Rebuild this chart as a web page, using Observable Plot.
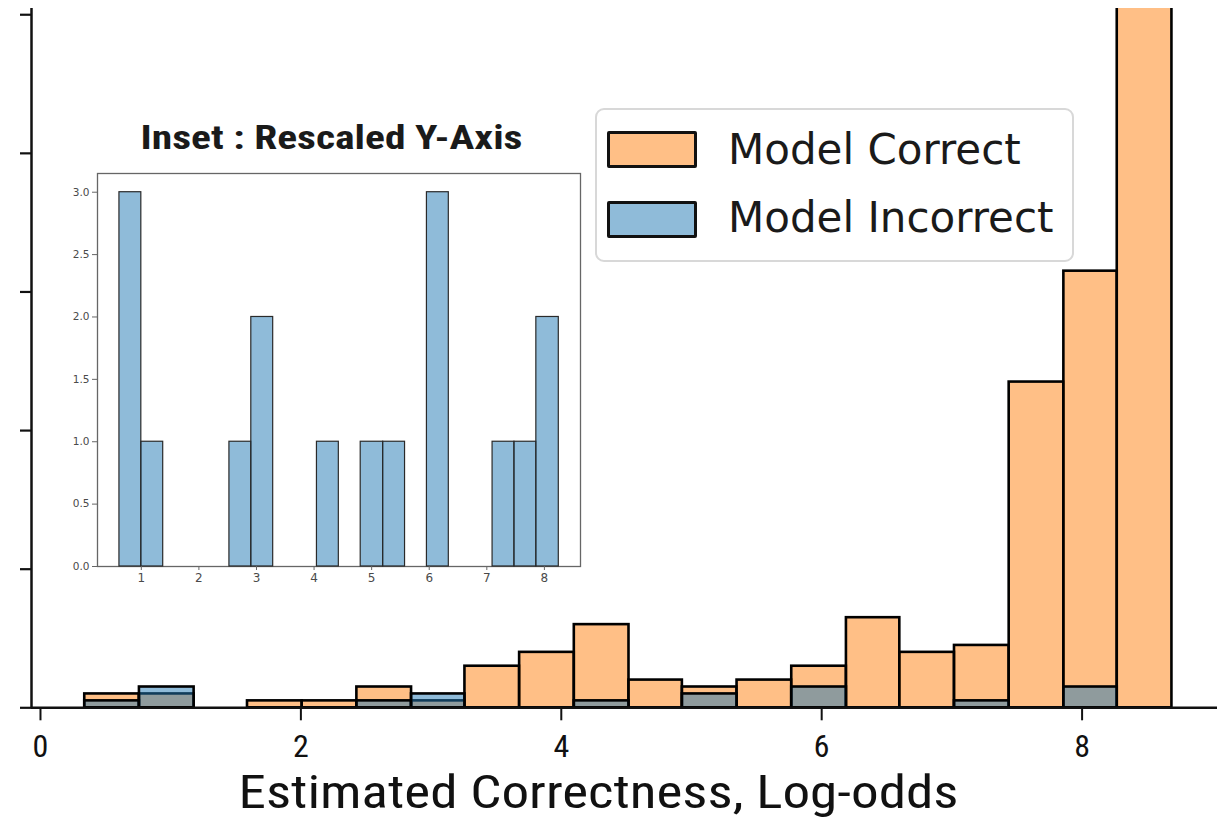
<!DOCTYPE html>
<html><head><meta charset="utf-8">
<script src="https://cdn.jsdelivr.net/npm/d3@7"></script>
<script src="https://cdn.jsdelivr.net/npm/@observablehq/plot@0.6"></script>
<style>
html,body{margin:0;padding:0;background:#fff;}
#wrap{position:relative;width:1217px;height:822px;overflow:hidden;background:#fff;}
#wrap svg{position:absolute;}
.abs{position:absolute;box-sizing:border-box;}
.lt{font-family:"DejaVu Sans",sans-serif;font-size:42px;line-height:42px;color:#1a1a1a;white-space:nowrap;}
</style></head><body><div id="wrap"></div>
<script>
// ---- data ----
const binEdges = [0.34,0.76,1.18,1.59,2.01,2.43,2.85,3.26,3.68,4.10,4.52,4.93,5.35,5.77,6.19,6.60,7.02,7.44,7.86,8.27,8.69];
const correctCounts   = [2,2,0,1,1,3,1,6,8,12,4,3,4,6,13,8,9,47,63,130];
const incorrectCounts = [1,3,0,0,0,1,2,0,0,1,0,2,0,3,0,0,1,0,3,0];
const insetEdges = [0.62,1.00,1.38,1.76,2.15,2.53,2.91,3.29,3.67,4.05,4.43,4.81,5.20,5.58,5.96,6.34,6.72,7.10,7.48,7.86,8.25];
const insetCounts = [3,1,0,0,0,1,2,0,0,1,0,1,1,0,3,0,0,1,1,2];
const xTicks = [0,2,4,6,8];
const yTicks = [0,20,40,60,80,100];
const insetXTicks = [1,2,3,4,5,6,7,8];
const insetYTicks = [0,0.5,1,1.5,2,2.5,3];
const xLabel = "Estimated Correctness, Log-odds";
const insetTitle = "Inset : Rescaled Y-Axis";
const seriesNames = ["Model Correct","Model Incorrect"];

const toBins = (counts, edges) => counts.map((c,i)=>({x1:edges[i], x2:edges[i+1], y:c})).filter(d=>d.y>0);
const correctData = toBins(correctCounts, binEdges);
const incorrectData = toBins(incorrectCounts, binEdges);
const insetData = toBins(insetCounts, insetEdges);

const narrow = "'Liberation Sans Narrow','Arial Narrow','Roboto Condensed',Roboto,sans-serif";
const wrap = document.getElementById("wrap");

const main = Plot.plot({
  width:1217, height:822,
  marginLeft:31, marginRight:0, marginTop:8, marginBottom:114.7,
  x:{domain:[-0.069, 9.04]},
  y:{domain:[0, 100.9]},
  style:{background:"transparent", overflow:"visible"},
  marks:[
    Plot.rectY(correctData, {x1:"x1", x2:"x2", y:"y", fill:"#ff7f0e", fillOpacity:0.5, stroke:"#000", strokeWidth:2.6, clip:true}),
    Plot.rectY(incorrectData, {x1:"x1", x2:"x2", y:"y", fill:"#1f77b4", fillOpacity:0.5, stroke:"#000", strokeWidth:2.6, clip:true}),
    Plot.axisX({ticks:xTicks, tickSize:13, tickPadding:13, fontSize:32, fontFamily:narrow, fill:"#111", stroke:"#111", strokeWidth:2, label:null}),
    Plot.axisY({ticks:yTicks, tickSize:11, tickFormat:()=>"", stroke:"#111", strokeWidth:2.2, label:null}),
    Plot.ruleY([0], {stroke:"#111", strokeWidth:2.5}),
    Plot.ruleX([-0.069], {stroke:"#111", strokeWidth:2.5}),
    Plot.text([xLabel], {text:d=>d, frameAnchor:"bottom", dy:85, dx:-26, lineAnchor:"middle", fontSize:47, fontFamily:narrow, fill:"#111"})
  ]
});
main.style.left = "0px"; main.style.top = "0px";
wrap.appendChild(main);
d3.select(main).selectAll("text").filter(function(){return this.textContent===xLabel;})
  .attr("textLength",720).attr("lengthAdjust","spacingAndGlyphs");

const inset = Plot.plot({
  width:560, height:500,
  marginLeft:57, marginRight:20, marginTop:73, marginBottom:34,
  x:{domain:[0.239, 8.627]},
  y:{domain:[0, 3.15]},
  style:{background:"transparent", overflow:"visible"},
  marks:[
    Plot.frame({fill:"white", stroke:"#666", strokeWidth:1.3}),
    Plot.rectY(insetData, {x1:"x1", x2:"x2", y:"y", fill:"#1f77b4", fillOpacity:0.5, stroke:"#2a2a2a", strokeWidth:1.2}),
    Plot.axisX({ticks:insetXTicks, tickSize:4, tickPadding:3, fontSize:12, fontFamily:"'DejaVu Sans',sans-serif", fill:"#4a4a4a", stroke:"#666", label:null}),
    Plot.axisY({ticks:insetYTicks, tickSize:5, tickPadding:3, fontSize:10.5, fontFamily:"'DejaVu Sans',sans-serif", tickFormat:d3.format(".1f"), fill:"#4a4a4a", stroke:"#666", label:null}),
    Plot.text([insetTitle], {text:d=>d, frameAnchor:"top", dy:-35, dx:-7.5, lineAnchor:"middle", fontSize:33, fontWeight:"bold", fontFamily:narrow, fill:"#1a1a1a"})
  ]
});
inset.style.left = "40px"; inset.style.top = "100px";
wrap.appendChild(inset);
d3.select(inset).selectAll("text").filter(function(){return this.textContent===insetTitle;})
  .attr("textLength",382).attr("lengthAdjust","spacingAndGlyphs");

// legend
function div(cls, css, txt){const e=document.createElement("div");e.className=cls;Object.assign(e.style,css);if(txt)e.textContent=txt;wrap.appendChild(e);return e;}
div("abs", {left:"595px", top:"108px", width:"479px", height:"154px", border:"2.5px solid #d8d8d8", borderRadius:"9px", background:"rgba(255,255,255,0.85)"});
div("abs", {left:"607px", top:"131px", width:"90px", height:"37px", border:"3px solid #111", borderRadius:"2px", background:"#ffbf86"});
div("abs", {left:"607px", top:"201px", width:"90px", height:"37px", border:"3px solid #111", borderRadius:"2px", background:"#8fbbd9"});
div("abs lt", {left:"728px", top:"129px"}, seriesNames[0]);
div("abs lt", {left:"728px", top:"197px"}, seriesNames[1]);
</script></body></html>
